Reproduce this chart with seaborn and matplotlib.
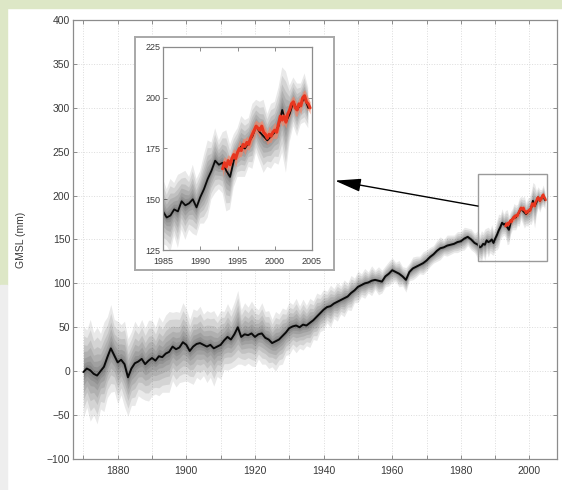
import numpy as np
import pandas as pd
import matplotlib
matplotlib.use("Agg")
import matplotlib.pyplot as plt
from matplotlib.patches import Rectangle
import seaborn as sns

# ── Data ─────────────────────────────────────────────────────────────────────
# reconstructed GMSL, annual 1870-1984 then half-yearly 1985-2004.5 (mm)
years_annual = np.arange(1870, 1985)
gmsl_annual = [
    -1, 3, 1, -3, -5, 0, 5, 16, 26, 18,
    10, 13, 8, -7, 3, 9, 11, 14, 8, 12,
    15, 12, 17, 16, 20, 22, 28, 25, 27, 33,
    30, 23, 28, 31, 32, 30, 28, 30, 26, 28,
    30, 35, 39, 36, 42, 50, 39, 42, 41, 43,
    39, 42, 43, 38, 36, 32, 34, 36, 40, 44,
    49, 51, 52, 50, 53, 52, 55, 58, 62, 66,
    70, 73, 74, 77, 79, 81, 83, 85, 89, 92,
    96, 98, 100, 101, 103, 104, 103, 102, 108, 111,
    115, 113, 111, 108, 104, 113, 117, 119, 121, 123,
    126, 130, 133, 137, 140, 141, 143, 144, 145, 147,
    148, 151, 153, 150, 146,
]
err_annual = [
    52, 44, 58, 47, 55, 43, 51, 46, 50, 41,
    47, 40, 49, 44, 42, 48, 39, 45, 41, 46,
    43, 38, 45, 40, 44, 46, 39, 43, 40, 45,
    41, 36, 43, 38, 42, 35, 41, 37, 43, 34,
    39, 33, 38, 33, 37, 42, 31, 36, 32, 37,
    34, 28, 35, 30, 33, 27, 34, 29, 32, 26,
    30, 25, 31, 24, 29, 23, 28, 22, 27, 21,
    23, 18, 24, 17, 22, 16, 21, 15, 20, 14,
    18, 13, 17, 12, 17, 11, 16, 13, 12, 14,
    14, 11, 15, 11, 14, 10, 13, 12, 10, 13,
    12, 11, 10, 12, 13, 9, 12, 11, 10, 12,
    11, 13, 10, 12, 11,
]
years_half = np.arange(1985, 2005, 0.5)
gmsl_half = [
    144, 141, 142, 145, 144, 149, 147, 148, 150, 146,
    151, 155, 160, 164, 169, 167, 168, 164, 161, 169,
    173, 176, 175, 178, 181, 186, 183, 181, 179, 181,
    183, 186, 194, 188, 192, 198, 194, 197, 200, 195,
]
err_half = [
    16, 14, 18, 13, 18, 14, 17, 13, 17, 14,
    13, 17, 19, 14, 16, 12, 15, 20, 16, 13,
    12, 15, 14, 12, 16, 13, 15, 18, 13, 16,
    15, 19, 21, 25, 14, 12, 13, 10, 12, 10,
]

# satellite altimetry, quarterly 1993-2004.75 (mm)
years_sat = np.arange(1993, 2005, 0.25)
gmsl_sat = [
    165, 168, 166, 169, 167, 170, 172, 170, 173, 175, 174, 177,
    176, 178, 177, 180, 182, 184, 186, 185, 184, 186, 183, 182,
    180, 182, 181, 183, 184, 183, 187, 191, 189, 191, 188, 192,
    194, 197, 198, 195, 194, 197, 196, 200, 201, 198, 197, 195,
]
err_sat = [
    4, 3, 4, 3, 4, 3, 3, 4, 3, 4, 3, 3,
    4, 3, 3, 4, 3, 4, 3, 3, 4, 3, 4, 3,
    3, 4, 3, 3, 4, 3, 4, 3, 3, 4, 3, 3,
    4, 3, 3, 4, 3, 3, 4, 3, 3, 4, 3, 3,
]

main_yticks = list(range(-100, 401, 50))
main_xticks = list(range(1870, 2001, 10))
main_xlabels = ["" if t % 20 else str(t) for t in main_xticks]
inset_xticks = [1985, 1990, 1995, 2000, 2005]
inset_yticks = [125, 150, 175, 200, 225]

recon = pd.DataFrame({
    "year": np.concatenate([years_annual, years_half]),
    "gmsl": gmsl_annual + gmsl_half,
    "err": err_annual + err_half,
})
sat = pd.DataFrame({"year": years_sat, "gmsl": gmsl_sat, "err": err_sat})

# ── Style ────────────────────────────────────────────────────────────────────
sns.set_theme(style="ticks")
plt.rcParams["font.family"] = ["Liberation Sans", "DejaVu Sans"]
plt.rcParams["xtick.direction"] = "in"
plt.rcParams["ytick.direction"] = "in"

GRAY = "#8c8c8c"
TXT = "#3a3a3a"
RED = "#e8361f"


def draw_series(ax, lw_black, lw_red):
    # stacked translucent bands give a soft gradient around the line
    for frac in [1.0, 0.8, 0.6, 0.45, 0.3, 0.18, 0.1]:
        ax.fill_between(recon["year"], recon["gmsl"] - frac * recon["err"],
                        recon["gmsl"] + frac * recon["err"],
                        color="black", alpha=0.085, lw=0)
    sns.lineplot(data=recon, x="year", y="gmsl", ax=ax, color="#0a0a0a",
                 lw=lw_black, estimator=None)
    ax.fill_between(sat["year"], sat["gmsl"] - sat["err"], sat["gmsl"] + sat["err"],
                    color="#f4866a", alpha=0.7, lw=0)
    sns.lineplot(data=sat, x="year", y="gmsl", ax=ax, color=RED,
                 lw=lw_red, estimator=None)


def style_box(ax, size, xpad=2):
    for s in ax.spines.values():
        s.set_visible(True)
        s.set_color(GRAY)
        s.set_linewidth(0.9)
    ax.tick_params(which="both", top=True, right=True, length=3, width=0.7,
                   color=GRAY, labelsize=size, labelcolor=TXT, pad=2)
    ax.tick_params(axis="x", pad=xpad)
    ax.set_xlabel("")
    ax.set_ylabel("")


fig = plt.figure(figsize=(5.62, 4.9), dpi=100)
fig.patch.set_facecolor("white")

# green frame strips
fig.patches.append(Rectangle((0, 1 - 8 / 490), 1, 8 / 490, transform=fig.transFigure,
                             color="#dde7c6", zorder=0))
fig.patches.append(Rectangle((0, 0.418), 7 / 562, 0.582, transform=fig.transFigure,
                             color="#dde7c6", zorder=0))
fig.patches.append(Rectangle((0, 0), 7 / 562, 0.418, transform=fig.transFigure,
                             color="#eeeeee", zorder=0))

# ── Main axes ────────────────────────────────────────────────────────────────
ax = fig.add_axes([0.130, 0.0633, 0.861, 0.896])
draw_series(ax, 1.4, 1.7)
ax.set_xlim(1867, 2008)
ax.set_ylim(-100, 400)
ax.set_yticks(main_yticks)
ax.set_xticks(main_xticks)
ax.set_xticklabels(main_xlabels)
style_box(ax, 7.5, xpad=5)
ax.grid(True, color="#dcdcdc", linestyle=":", linewidth=0.7)
ax.set_ylabel("GMSL (mm)", fontsize=7.5, color=TXT)
ax.yaxis.set_label_coords(-0.098, 0.5)

ax.add_patch(Rectangle((1985, 125), 20, 100, fill=False, edgecolor="#9a9a9a", lw=1.0,
                       zorder=5))
ax.annotate("", xy=(1943.3, 217), xytext=(1985, 188),
            arrowprops=dict(arrowstyle="-|>,head_length=0.8,head_width=0.2",
                            color="black", lw=1.0, mutation_scale=20,
                            shrinkA=0, shrinkB=0), zorder=6)

# ── Inset frame and inset axes ───────────────────────────────────────────────
frame = fig.add_axes([135 / 562, 1 - 270 / 490, 199 / 562, 233 / 490])
frame.set_facecolor("white")
frame.set_xticks([])
frame.set_yticks([])
for s in frame.spines.values():
    s.set_visible(True)
    s.set_color("#a8a8a8")
    s.set_linewidth(1.4)

ins = fig.add_axes([163 / 562, 1 - 250 / 490, 149 / 562, 203 / 490])
draw_series(ins, 1.3, 2.2)
ins.set_xlim(1985, 2005)
ins.set_ylim(125, 225)
ins.set_xticks(inset_xticks)
ins.set_yticks(inset_yticks)
style_box(ins, 6.5, xpad=5)
ins.set_facecolor("white")

fig.savefig("out.png", dpi=100)
